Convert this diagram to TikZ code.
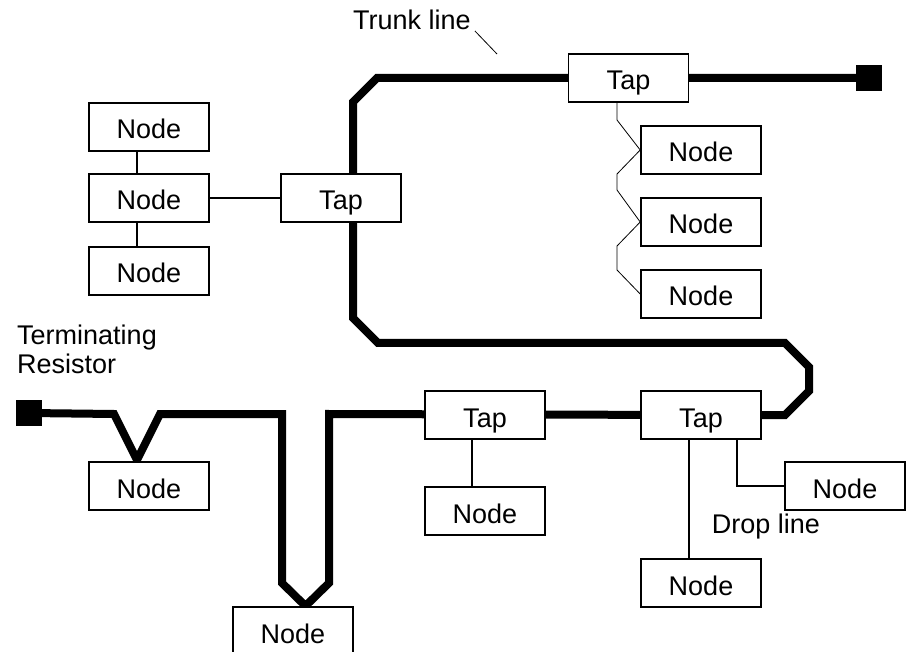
\documentclass[tikz,border=0pt]{standalone}
\usepackage{fontspec}
\setmainfont{Liberation Sans}
\begin{document}
\begin{tikzpicture}[x=1pt,y=-1pt,
  box/.style={draw,fill=white,line width=1.6pt,minimum width=120pt,minimum height=48pt,inner sep=0pt,text height=24pt,text depth=0pt,font=\fontsize{27}{30}\selectfont},
  trunk/.style={line width=8pt,line join=miter},
  drop/.style={line width=1.6pt},
  zig/.style={line width=0.8pt},
  term/.style={fill=black,minimum size=26pt,inner sep=0pt},
  lbl/.style={font=\fontsize{27}{29}\selectfont,inner sep=0pt}]
\useasboundingbox (0,0) rectangle (908,652);
% coordinates on trunk
\coordinate (c1) at (377,78);
\coordinate (c2) at (353,102);
\coordinate (c3) at (353,318);
\coordinate (c4) at (378,343);
\coordinate (c5) at (785,343);
\coordinate (c6) at (809,367);
\coordinate (c7) at (809,391);
\coordinate (c8) at (785,415);
\coordinate (b1) at (114,414);
\coordinate (b2) at (137,460);
\coordinate (b3) at (160,414);
\coordinate (b4) at (282,414);
\coordinate (b5) at (282,583);
\coordinate (b6) at (305.5,606);
\coordinate (b7) at (329,583);
\coordinate (b8) at (329,414);
% terminators
\node[term] (rT) at (869,78) {};
\node[term] (rL) at (29,413) {};
% taps (positions)
\path (628.5,78) coordinate (pT) (341,198) coordinate (pL) (485,415) coordinate (pM) (701,415) coordinate (pR);
% trunk lines
\draw[trunk] (rT.center) -- (pT) -- (c1) -- (c2) -- (c3) -- (c4) -- (c5) -- (c6) -- (c7) -- (c8) -- (pR);
\draw[trunk] (rL.center) -- (b1) -- (b2) -- (b3) -- (b4) -- (b5) -- (b6) -- (b7) -- (b8) -- (pR);
% taps
\node[box] (tapT) at (pT) {Tap};
\node[box] (tapL) at (pL) {Tap};
\node[box] (tapM) at (pM) {Tap};
\node[box] (tapR) at (pR) {Tap};
% nodes
\node[box] (n1) at (149,127) {Node};
\node[box] (n2) at (149,198) {Node};
\node[box] (n3) at (149,271) {Node};
\node[box] (r1) at (701,150) {Node};
\node[box] (r2) at (701,222) {Node};
\node[box] (r3) at (701,294) {Node};
\node[box] (v1) at (149,486) {Node};
\node[box] (v2) at (293,631) {Node};
\node[box] (m1) at (485,511) {Node};
\node[box] (d1) at (701,583) {Node};
\node[box] (d2) at (845,486) {Node};
% left drops
\draw[drop] (n1.south -| 137,0) -- (n2.north -| 137,0);
\draw[drop] (n2.south -| 137,0) -- (n3.north -| 137,0);
\draw[drop] (n2.east) -- (tapL.west);
% zigzag
\draw[zig] (tapT.south -| 617,0) -- (617,120) -- (r1.west) -- (617,174) -- (617,190) -- (r2.west) -- (617,246) -- (617,270) -- (r3.west);
% bottom drops
\draw[drop] (tapM.south -| 472,0) -- (m1.north -| 472,0);
\draw[drop] (tapR.south -| 689,0) -- (d1.north -| 689,0);
\draw[drop] (tapR.south -| 737,0) |- (d2.west);
% labels
\node[lbl,anchor=base west] (tl) at (353,30) {Trunk line};
\coordinate (tla) at (497,54);
\draw[line width=0.8pt] (tl.base east) ++(4,1) -- (tla);
\node[lbl,anchor=west,align=left] (tr) at (17,349) {Terminating\\Resistor};
\node[lbl] (dl) at (766,527) {Drop line};
\end{tikzpicture}
\end{document}
